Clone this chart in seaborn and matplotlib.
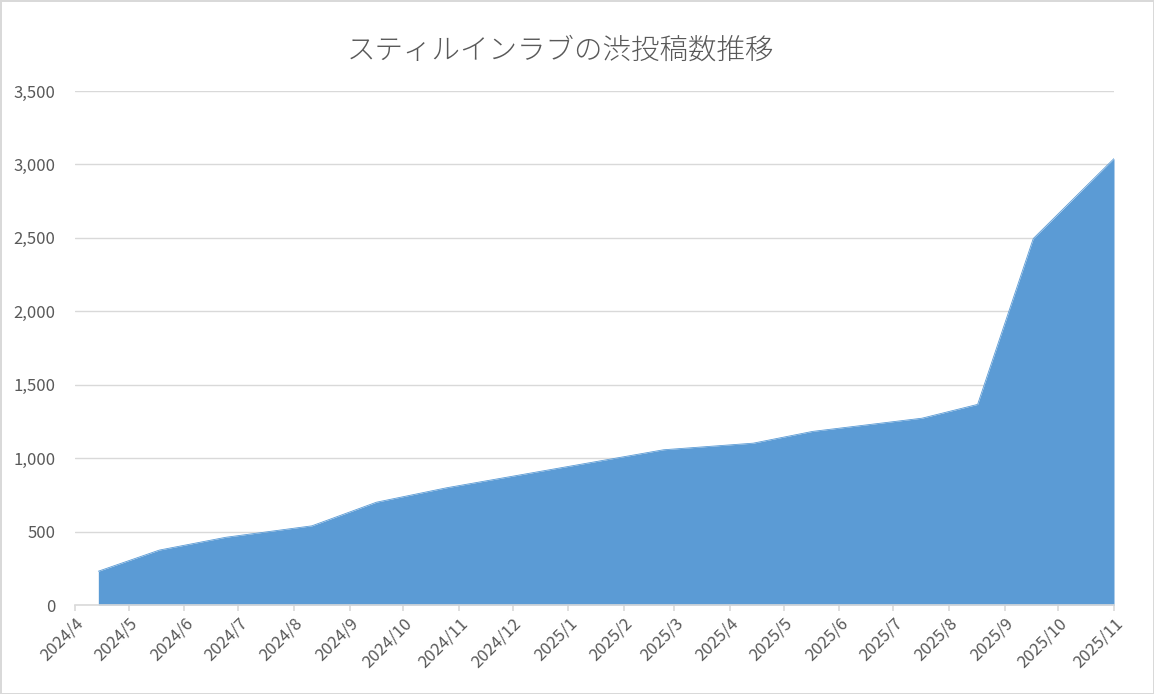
import matplotlib.pyplot as plt
import matplotlib.dates as mdates
import matplotlib.ticker as mticker
import pandas as pd
import seaborn as sns

TITLE = "スティルインラブの渋投稿数推移"
DATES = ["2024-04-14", "2024-05-18", "2024-06-24", "2024-08-11", "2024-09-16",
         "2024-10-25", "2025-02-23", "2025-04-14", "2025-05-17", "2025-07-17",
         "2025-08-17", "2025-09-17", "2025-11-01"]
POSTS = [230, 374, 461, 539, 700, 798, 1057, 1102, 1182, 1272, 1366, 2495, 3040]
X_START, X_END = "2024-04-01", "2025-11-01"
Y_TICKS = [0, 500, 1000, 1500, 2000, 2500, 3000, 3500]

df = pd.DataFrame({"date": pd.to_datetime(DATES), "posts": POSTS})

sns.set_theme(style="white")
plt.rcParams["font.family"] = ["Noto Sans CJK JP", "DejaVu Sans"]

fig = plt.figure(figsize=(11.54, 6.94), dpi=100)
ax = fig.add_axes([75 / 1154, 1 - 605 / 694, (1114 - 75) / 1154, (605 - 91) / 694])

blue = "#5B9BD5"
grey = "#595959"
ax.fill_between(df["date"], df["posts"], 0, color=blue, linewidth=0, zorder=2)
sns.lineplot(data=df, x="date", y="posts", color=blue, linewidth=0.6, ax=ax, zorder=3)

ax.set_xlim(pd.Timestamp(X_START), pd.Timestamp(X_END))
ax.set_ylim(Y_TICKS[0], Y_TICKS[-1])
ax.set_yticks(Y_TICKS)
ax.yaxis.set_major_formatter(mticker.FuncFormatter(lambda v, _: f"{int(v):,}"))
ax.yaxis.grid(True, color="#d9d9d9", linewidth=1.0, zorder=0)
ax.set_axisbelow(True)

ax.xaxis.set_major_locator(mdates.MonthLocator())
ax.xaxis.set_major_formatter(mticker.FuncFormatter(
    lambda v, _: f"{mdates.num2date(v).year}/{mdates.num2date(v).month}"))

for s in ["top", "right", "left"]:
    ax.spines[s].set_visible(False)
ax.spines["bottom"].set_color("#d9d9d9")
ax.spines["bottom"].set_linewidth(1.2)
ax.spines["bottom"].set_zorder(4)

ax.tick_params(axis="x", colors="#d9d9d9", length=4, width=1.2, direction="out",
               bottom=True, labelcolor=grey, labelsize=12, pad=3)
ax.tick_params(axis="y", left=False, labelcolor=grey, labelsize=12, pad=8)
for lbl in ax.get_xticklabels():
    lbl.set_rotation(45)
    lbl.set_ha("right")
    lbl.set_rotation_mode("anchor")

ax.set_xlabel(None)
ax.set_ylabel(None)

fig.text(560 / 1154, 1 - 50 / 694, TITLE, ha="center", va="center",
         fontsize=20.5, color=grey, fontweight="light")

fig.patch.set_edgecolor("#d9d9d9")
fig.patch.set_linewidth(2)

fig.savefig("out.png", dpi=100, edgecolor=fig.get_edgecolor())
